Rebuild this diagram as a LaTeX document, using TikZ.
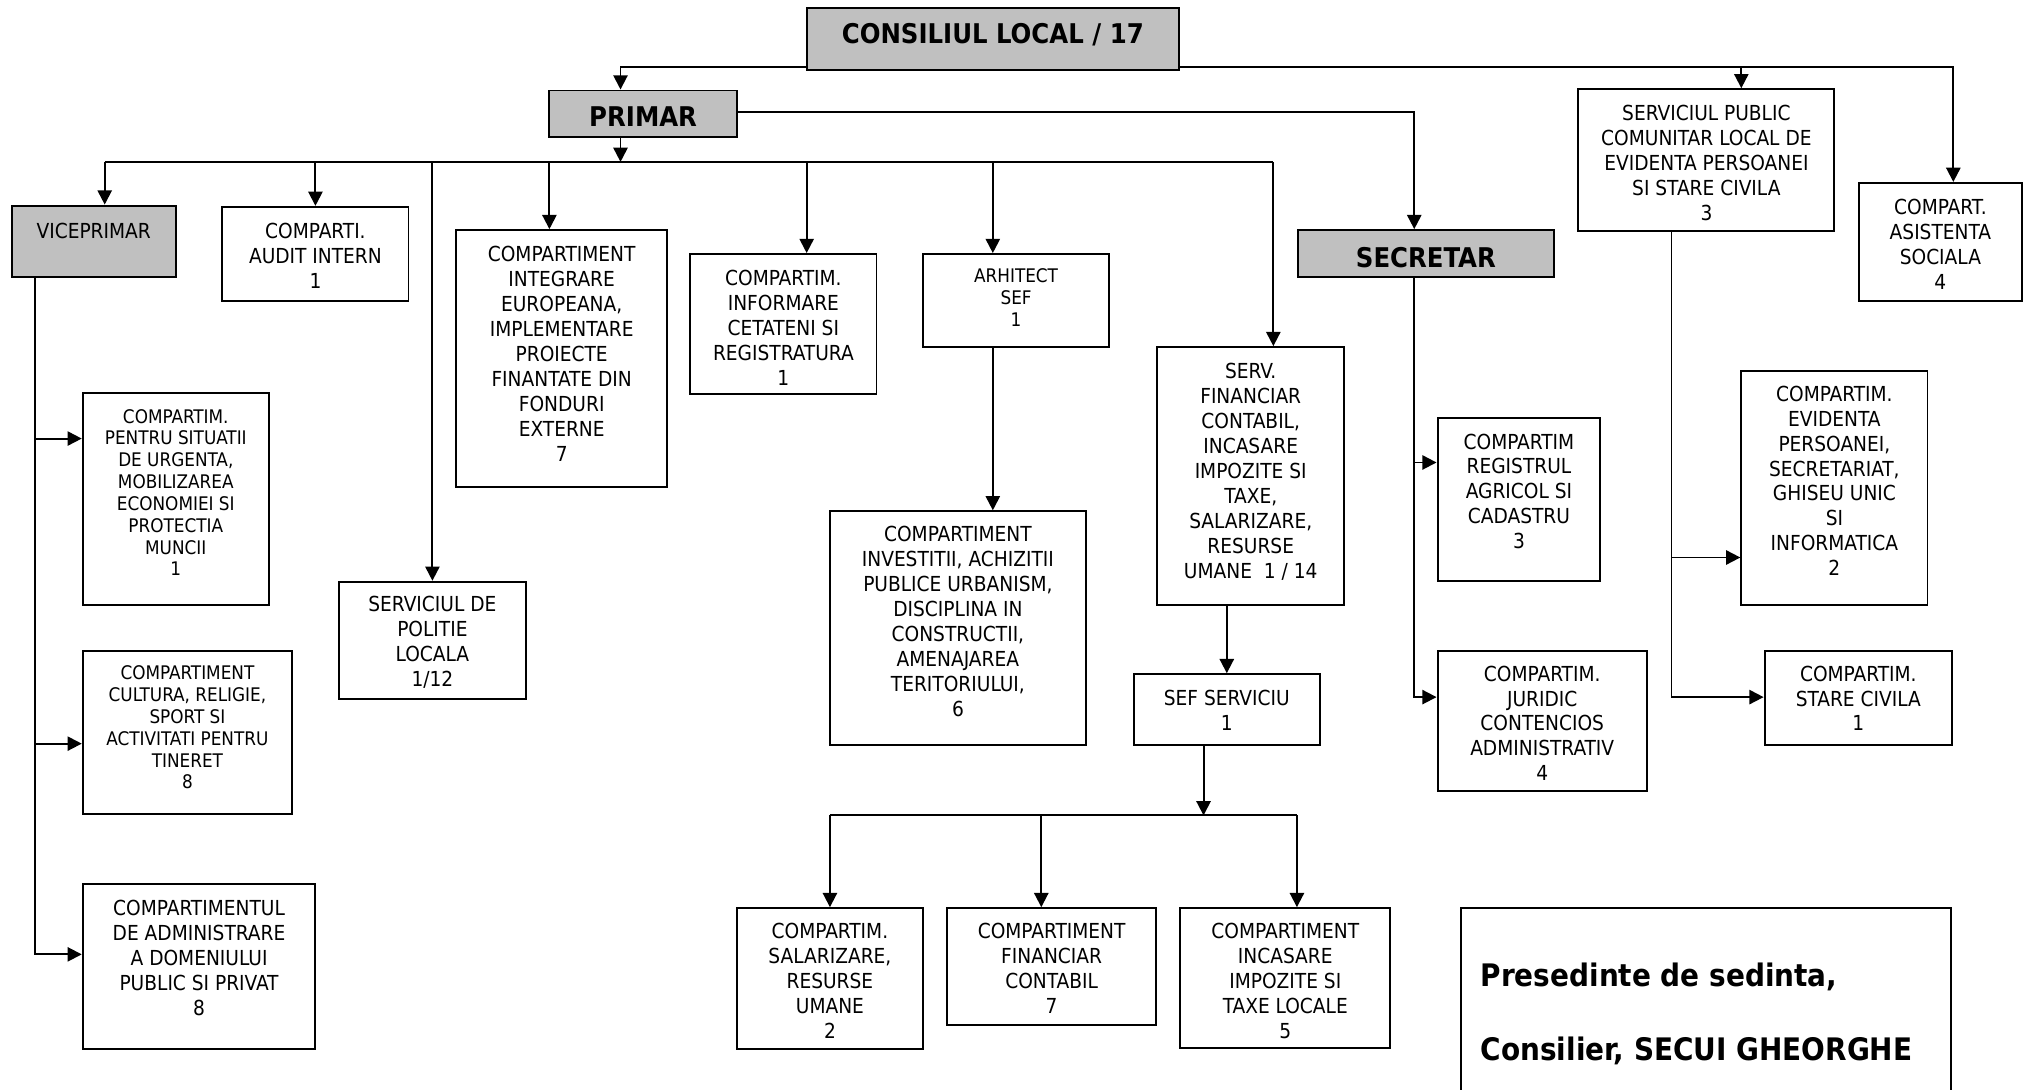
\documentclass[tikz,border=0pt]{standalone}
\usepackage{fontspec}
\setmainfont{DejaVu Sans Condensed}
\usetikzlibrary{arrows.meta,fit,calc}
\definecolor{boxgray}{RGB}{192,192,192}
\newcommand\normtxt{\fontsize{16}{19.3}\selectfont}
\newcommand\smalltxt{\fontsize{14.5}{16.9}\selectfont}
\newcommand\boldtxt{\fontsize{21}{24}\selectfont\bfseries}
\newcommand\signtxt{\fontsize{24}{28}\selectfont\bfseries}
\begin{document}
\begin{tikzpicture}[x=1pt,y=-1pt,
 box/.style={draw, line width=1.5pt, inner sep=0pt, fill=white},
 gbox/.style={box, fill=boxgray},
 txt/.style={align=center, inner sep=0pt, font=\normtxt, anchor=north},
 stxt/.style={txt, font=\smalltxt},
 btxt/.style={inner sep=0pt, font=\boldtxt},
 line/.style={line width=1.5pt},
 conn/.style={line, -{Triangle[length=11pt,width=11pt]}},
]
\useasboundingbox (0,0) rectangle (1568,843);

% ---- boxes ----
\node[gbox, fit={(624,6) (912,54)}] (cl) {};
\node[btxt] (cl-t) at ([yshift=3pt]cl.center) {CONSILIUL LOCAL / 17};

\node[gbox, fit={(425,70) (570,106)}] (primar) {};
\node[btxt] (primar-t) at ([yshift=-2pt]primar.center) {PRIMAR};

\node[gbox, fit={(9,159) (136,214)}] (vice) {};
\node[txt] (vice-t) at ([yshift=-14pt]vice.north) {VICEPRIMAR};

\node[box, fit={(172,160) (316,233)}] (audit) {};
\node[txt] (audit-t) at ([yshift=-13pt]audit.north) {COMPARTI.\\AUDIT INTERN\\1};

\node[box, fit={(353,178) (516,377)}] (integ) {};
\node[txt] (integ-t) at ([yshift=-13pt]integ.north) {COMPARTIMENT\\INTEGRARE\\EUROPEANA,\\IMPLEMENTARE\\PROIECTE\\FINANTATE DIN\\FONDURI\\EXTERNE\\7};

\node[box, fit={(534,196.5) (678,305)}] (inform) {};
\node[txt] (inform-t) at ([yshift=-13pt]inform.north) {COMPARTIM.\\INFORMARE\\CETATENI SI\\REGISTRATURA\\1};

\node[box, fit={(714,196.5) (858,268.5)}] (arhit) {};
\node[stxt] (arhit-t) at ([yshift=-12pt]arhit.north) {ARHITECT\\SEF\\1};

\node[gbox, fit={(1004,178) (1202,214)}] (secr) {};
\node[btxt] (secr-t) at ([yshift=-3pt]secr.center) {SECRETAR};

\node[box, fit={(1221,69) (1419,179)}] (spclep) {};
\node[txt] (spclep-t) at ([yshift=-13pt]spclep.north) {SERVICIUL PUBLIC\\COMUNITAR LOCAL DE\\EVIDENTA PERSOANEI\\SI STARE CIVILA\\3};

\node[box, fit={(1438,141.5) (1564,233)}] (asist) {};
\node[txt] (asist-t) at ([yshift=-13pt]asist.north) {COMPART.\\ASISTENTA\\SOCIALA\\4};

\node[box, fit={(64,304) (208,468)}] (sit) {};
\node[stxt] (sit-t) at ([yshift=-13pt]sit.north) {COMPARTIM.\\PENTRU SITUATII\\DE URGENTA,\\MOBILIZAREA\\ECONOMIEI SI\\PROTECTIA\\MUNCII\\1};

\node[box, fit={(262,450) (407,541)}] (politie) {};
\node[txt] (politie-t) at ([yshift=-12pt]politie.north) {SERVICIUL DE\\POLITIE\\LOCALA\\1/12};

\node[box, fit={(642,395.5) (840,576)}] (invest) {};
\node[txt] (invest-t) at ([yshift=-12pt]invest.north) {COMPARTIMENT\\INVESTITII, ACHIZITII\\PUBLICE URBANISM,\\DISCIPLINA IN\\CONSTRUCTII,\\AMENAJAREA\\TERITORIULUI,\\6};

\node[box, fit={(895,268.5) (1040,468)}] (servfin) {};
\node[txt] (servfin-t) at ([yshift=-13pt]servfin.north) {SERV.\\FINANCIAR\\CONTABIL,\\INCASARE\\IMPOZITE SI\\TAXE,\\SALARIZARE,\\RESURSE\\UMANE\ \ 1 / 14};

\node[box, fit={(1112,323) (1238,449.5)}] (reg) {};
\node[txt] (reg-t) at ([yshift=-13pt]reg.north) {COMPARTIM\\REGISTRUL\\AGRICOL SI\\CADASTRU\\3};

\node[box, fit={(1347,287) (1491,468)}] (evid) {};
\node[txt] (evid-t) at ([yshift=-12pt]evid.north) {COMPARTIM.\\EVIDENTA\\PERSOANEI,\\SECRETARIAT,\\GHISEU UNIC\\SI\\INFORMATICA\\2};

\node[box, fit={(64,503.5) (226,630)}] (cult) {};
\node[stxt] (cult-t) at ([yshift=-12pt]cult.north) {COMPARTIMENT\\CULTURA, RELIGIE,\\SPORT SI\\ACTIVITATI PENTRU\\TINERET\\8};

\node[box, fit={(877,521.5) (1021,576)}] (sef) {};
\node[txt] (sef-t) at ([yshift=-13pt]sef.north) {SEF SERVICIU\\1};

\node[box, fit={(1112,503.5) (1274,612)}] (jur) {};
\node[txt] (jur-t) at ([yshift=-12pt]jur.north) {COMPARTIM.\\JURIDIC\\CONTENCIOS\\ADMINISTRATIV\\4};

\node[box, fit={(1365,503.5) (1510,576)}] (stare) {};
\node[txt] (stare-t) at ([yshift=-12pt]stare.north) {COMPARTIM.\\STARE CIVILA\\1};

\node[box, fit={(64,684) (244,811.5)}] (adm) {};
\node[txt] (adm-t) at ([yshift=-13pt]adm.north) {COMPARTIMENTUL\\DE ADMINISTRARE\\A DOMENIULUI\\PUBLIC SI PRIVAT\\8};

\node[box, fit={(570,702.5) (714,811.5)}] (sal) {};
\node[txt] (sal-t) at ([yshift=-12pt]sal.north) {COMPARTIM.\\SALARIZARE,\\RESURSE\\UMANE\\2};

\node[box, fit={(732.5,702.5) (894.5,793)}] (fin) {};
\node[txt] (fin-t) at ([yshift=-12pt]fin.north) {COMPARTIMENT\\FINANCIAR\\CONTABIL\\7};

\node[box, fit={(913,702.5) (1075.5,811)}] (inc) {};
\node[txt] (inc-t) at ([yshift=-12pt]inc.north) {COMPARTIMENT\\INCASARE\\IMPOZITE SI\\TAXE LOCALE\\5};

\node[box, fit={(1130,702.5) (1509,860)}] (pres) {};
\node[inner sep=0pt, font=\signtxt, anchor=base west] (pres-t1) at ([xshift=16pt,yshift=-61pt]pres.north west) {Presedinte de sedinta,};
\node[inner sep=0pt, font=\signtxt, anchor=base west] (pres-t2) at ([xshift=16pt,yshift=-118.5pt]pres.north west) {Consilier, SECUI GHEORGHE};

% ---- connectors ----
% Consiliul local
\coordinate (clL) at ([yshift=3pt]cl.south west);
\coordinate (clR) at ([yshift=3pt]cl.south east);
\coordinate (primT) at ([xshift=-17.5pt]primar.north);
\coordinate (asT) at ([xshift=10pt]asist.north);
\coordinate (spT) at ([xshift=27pt]spclep.north);
\draw[conn] (clL) -| (primT);
\draw[conn] (clR) -| (asT);
\draw[conn] (spT |- clR) -- (spT);

% Primar bus
\coordinate (primB) at ([xshift=-17.5pt]primar.south);
\coordinate (bus) at ([yshift=-18.5pt]primB);
\draw[conn] (primB) -- (bus);
\coordinate (viceT) at ([xshift=8.5pt]vice.north);
\coordinate (audT) at (audit.north);
\coordinate (polT) at (politie.north);
\coordinate (intT) at ([xshift=-9.5pt]integ.north);
\coordinate (infT) at ([xshift=18pt]inform.north);
\coordinate (arhT) at ([xshift=-18pt]arhit.north);
\coordinate (sfT) at ([xshift=17.5pt]servfin.north);
\draw[line] (viceT |- bus) -- (sfT |- bus);
\foreach \t in {viceT,audT,polT,intT,infT,arhT,sfT}
  \draw[conn] (\t |- bus) -- (\t);

% Primar -> Secretar
\coordinate (secT) at ([xshift=-9pt]secr.north);
\draw[conn] ([yshift=1pt]primar.east) -| (secT);

% Viceprimar trunk
\coordinate (viceB) at ([xshift=-45.5pt]vice.south);
\coordinate (sitL) at ([yshift=-36pt]sit.north west);
\coordinate (culL) at ([yshift=-72.5pt]cult.north west);
\coordinate (admL) at ([yshift=-55pt]adm.north west);
\draw[conn] (viceB) |- (admL);
\draw[conn] (viceB |- sitL) -- (sitL);
\draw[conn] (viceB |- culL) -- (culL);

% Arhitect -> Investitii
\coordinate (arhB) at ([xshift=-18pt]arhit.south);
\coordinate (invT) at ([xshift=27pt]invest.north);
\draw[conn] (arhB) -- (invT);

% Serv financiar -> Sef serviciu
\coordinate (sfB) at ([xshift=-18.5pt]servfin.south);
\draw[conn] (sfB) -- (sfB |- sef.north);

% Sef serviciu bus
\coordinate (sefB) at ([xshift=-18pt]sef.south);
\coordinate (bus2) at ([yshift=-54pt]sefB);
\draw[conn] (sefB) -- (bus2);
\coordinate (salT) at (sal.north);
\coordinate (finT) at ([xshift=-8pt]fin.north);
\coordinate (incT) at ([xshift=9pt]inc.north);
\draw[line] (salT |- bus2) -- (incT |- bus2);
\foreach \t in {salT,finT,incT}
  \draw[conn] (\t |- bus2) -- (\t);

% Secretar trunk
\coordinate (secB) at ([xshift=-9pt]secr.south);
\coordinate (regL) at ([yshift=-35.5pt]reg.north west);
\coordinate (jurL) at ([yshift=-36.5pt]jur.north west);
\draw[conn] (secB) |- (jurL);
\draw[conn] (secB |- regL) -- (regL);

% SPCLEP trunk
\coordinate (spB) at ([xshift=-27pt]spclep.south);
\coordinate (evL) at ([yshift=-145pt]evid.north west);
\coordinate (stL) at ([yshift=-36.5pt]stare.north west);
\draw[conn] (spB) |- (stL);
\draw[conn] (spB |- evL) -- (evL);
\end{tikzpicture}
\end{document}
